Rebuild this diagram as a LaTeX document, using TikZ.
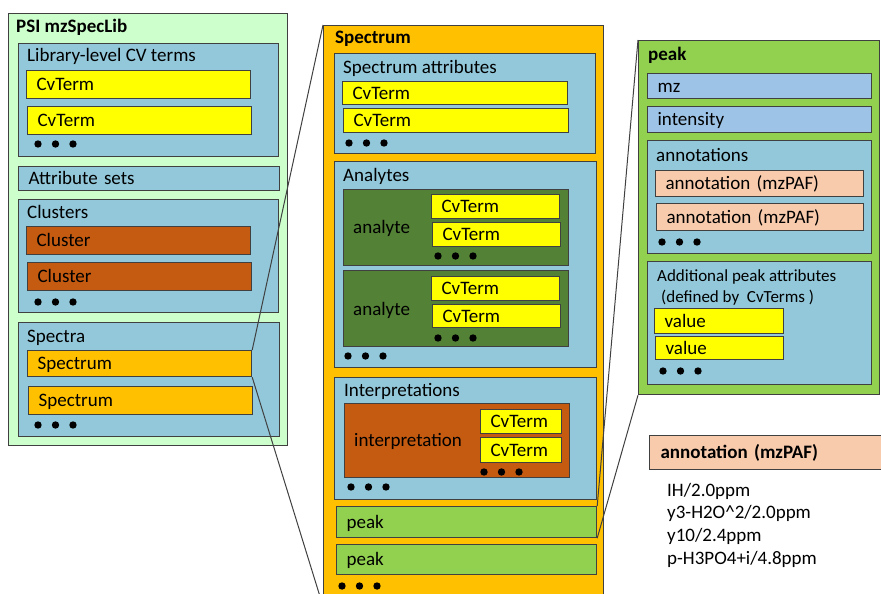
\documentclass[tikz,border=0pt]{standalone}
\usepackage{fontspec}
\setmainfont{Carlito}

\definecolor{edge}{HTML}{404040}
\definecolor{libgreen}{HTML}{CCFFCC}
\definecolor{boxblue}{HTML}{92C8DA}
\definecolor{cvyellow}{HTML}{FFFF00}
\definecolor{clusterbrown}{HTML}{C55A11}
\definecolor{specorange}{HTML}{FFC000}
\definecolor{analytegreen}{HTML}{538135}
\definecolor{peakgreen}{HTML}{92D050}
\definecolor{mzblue}{HTML}{9DC3E6}
\definecolor{annosalmon}{HTML}{F8CBAD}

\tikzset{
	box/.style={draw=edge, line width=1.2pt, anchor=north west, inner sep=0pt},
	cell/.style={draw=edge, line width=1.2pt, anchor=north west, inner xsep=10pt, inner ysep=0pt, align=left, text height=12.5pt, text depth=0pt},
	lbl/.style={anchor=base west, inner sep=0pt},
	ttl/.style={lbl, font=\fontsize{19}{22}\selectfont\bfseries},
	link/.style={draw=edge, line width=1pt}
}

\newcommand{\threedots}[2]{\foreach \d in {0,1,2}{\fill (#1+17.5*\d,#2) circle (3.7pt);}}

\begin{document}
\begin{tikzpicture}[x=1pt, y=-1pt, font=\fontsize{19}{22}\selectfont]
		\useasboundingbox (0,0) rectangle (881,594);

		% PSI mzSpecLib
		\draw (8,13) node[box, fill=libgreen, minimum width=279pt, minimum height=432pt] (lib) {};
		\draw (16,33) node[ttl] (libttl) {PSI mzSpecLib};

		\draw (18,43) node[box, fill=boxblue, minimum width=260pt, minimum height=113pt] (libcv) {};
		\draw (27,62) node[lbl] (libcvlbl) {Library-level CV terms};
		\draw (26,70) node[cell, fill=cvyellow, text width=204pt, minimum height=28pt] (libcv1) {CvTerm};
		\draw (27,106) node[cell, fill=cvyellow, text width=204pt, minimum height=28pt] (libcv2) {CvTerm};
		\threedots{38}{144}

		\draw (18,166) node[cell, fill=boxblue, text width=241pt, minimum height=24pt] (attrsets) {Attribute sets};

		\draw (18,199) node[box, fill=boxblue, minimum width=260pt, minimum height=113pt] (clusters) {};
		\draw (27,218) node[lbl] (clusterslbl) {Clusters};
		\draw (26,226) node[cell, fill=clusterbrown, text width=204pt, minimum height=28pt] (cluster1) {Cluster};
		\draw (27,262) node[cell, fill=clusterbrown, text width=204pt, minimum height=28pt] (cluster2) {Cluster};
		\threedots{38}{302}

		\draw (18,322) node[box, fill=boxblue, minimum width=261pt, minimum height=114pt] (spectra) {};
		\draw (27,342) node[lbl] (spectralbl) {Spectra};
		\draw (27,350) node[cell, fill=specorange, text width=204pt, minimum height=26pt] (spec1) {Spectrum};
		\draw (28,386) node[cell, fill=specorange, text width=204pt, minimum height=28pt] (spec2) {Spectrum};
		\threedots{38}{425}

		% Spectrum
		\draw (323,25) node[box, fill=specorange, minimum width=280pt, minimum height=580pt] (spectrum) {};
		\draw (335,44) node[ttl] (spectrumttl) {Spectrum};

		\draw (334,53) node[box, fill=boxblue, minimum width=261pt, minimum height=100pt] (sattr) {};
		\draw (343,74) node[lbl] (sattrlbl) {Spectrum attributes};
		\draw (342,81) node[cell, fill=cvyellow, text width=205pt, minimum height=23pt] (sattr1) {CvTerm};
		\draw (343,108) node[cell, fill=cvyellow, text width=205pt, minimum height=24pt] (sattr2) {CvTerm};
		\threedots{349}{143}

		\draw (334,161) node[box, fill=boxblue, minimum width=262pt, minimum height=206pt] (analytes) {};
		\draw (343,181) node[lbl] (analyteslbl) {Analytes};
		\draw (343,189) node[box, fill=analytegreen, minimum width=225pt, minimum height=76pt] (analyte1) {};
		\draw (353,233) node[lbl] (analyte1lbl) {analyte};
		\draw (431,194) node[cell, fill=cvyellow, text width=108pt, minimum height=24pt] (analyte1cv1) {CvTerm};
		\draw (432,222) node[cell, fill=cvyellow, text width=108pt, minimum height=24pt] (analyte1cv2) {CvTerm};
		\threedots{438}{256}
		\draw (343,270) node[box, fill=analytegreen, minimum width=225pt, minimum height=76pt] (analyte2) {};
		\draw (353,315) node[lbl] (analyte2lbl) {analyte};
		\draw (431,276) node[cell, fill=cvyellow, text width=108pt, minimum height=24pt] (analyte2cv1) {CvTerm};
		\draw (432,304) node[cell, fill=cvyellow, text width=108pt, minimum height=23pt] (analyte2cv2) {CvTerm};
		\threedots{438}{338}
		\threedots{348}{356}

		\draw (334,377) node[box, fill=boxblue, minimum width=262pt, minimum height=122pt] (interps) {};
		\draw (344,396) node[lbl] (interpslbl) {Interpretations};
		\draw (344,403) node[box, fill=clusterbrown, minimum width=225pt, minimum height=74pt] (interp) {};
		\draw (354,446) node[lbl] (interplbl) {interpretation};
		\draw (480,409) node[cell, fill=cvyellow, text width=61pt, minimum height=24pt] (interpcv1) {CvTerm};
		\draw (480,437) node[cell, fill=cvyellow, text width=61pt, minimum height=25pt] (interpcv2) {CvTerm};
		\threedots{484}{472}
		\threedots{351}{487}

		\draw (336,506) node[cell, fill=peakgreen, text width=240pt, minimum height=31pt] (peak1) {peak};
		\draw (336,544) node[cell, fill=peakgreen, text width=240pt, minimum height=30pt] (peak2) {peak};
		\threedots{342}{586}

		% peak
		\draw (638,40) node[box, fill=peakgreen, minimum width=241pt, minimum height=354pt] (peakpanel) {};
		\draw (648,60) node[ttl] (peakttl) {peak};
		\draw (647,73) node[cell, fill=mzblue, text width=204pt, minimum height=25pt] (mz) {mz};
		\draw (647,106) node[cell, fill=mzblue, text width=204pt, minimum height=26pt] (intensity) {intensity};

		\draw (647,140) node[box, fill=boxblue, minimum width=224pt, minimum height=113pt] (annots) {};
		\draw (656,161) node[lbl] (annotslbl) {annotations};
		\draw (655,170) node[cell, fill=annosalmon, text width=188pt, minimum height=26pt] (annot1) {annotation (mzPAF)};
		\draw (656,203) node[cell, fill=annosalmon, text width=187pt, minimum height=27pt] (annot2) {annotation (mzPAF)};
		\threedots{662}{242}

		\draw (647,261) node[box, fill=boxblue, minimum width=224pt, minimum height=123pt] (extra) {};
		\draw (657,281) node[lbl, font=\fontsize{17}{20}\selectfont] (extralbl1) {Additional peak attributes};
		\draw (661,302) node[lbl, font=\fontsize{17}{20}\selectfont] (extralbl2) {(defined by\ \ CvTerms )};
		\draw (654,308) node[cell, fill=cvyellow, text width=109pt, minimum height=25pt] (value1) {value};
		\draw (655,336) node[cell, fill=cvyellow, text width=108pt, minimum height=23pt] (value2) {value};
		\threedots{663}{371}

		% mzPAF examples
		\draw (649,435) node[cell, fill=annosalmon, font=\fontsize{19}{22}\selectfont\bfseries, inner xsep=11pt, text width=220pt, minimum height=34pt] (mzpaf) {annotation (mzPAF)};
		\draw (667,496) node[lbl] (ex1) {IH/2.0ppm};
		\draw (667,518) node[lbl] (ex2) {y3-H2O\textasciicircum2/2.0ppm};
		\draw (667,541) node[lbl] (ex3) {y10/2.4ppm};
		\draw (667,564) node[lbl] (ex4) {p-H3PO4+i/4.8ppm};

		\draw [link] (spec1.north east) -- (spectrum.north west);
		\draw [link] (spec1.south east) -- (spectrum.south west);
		\draw [link] (peak1.north east) -- (peakpanel.north west);
		\draw [link] (peak1.south east) -- (peakpanel.south west);
	\end{tikzpicture}
\end{document}
